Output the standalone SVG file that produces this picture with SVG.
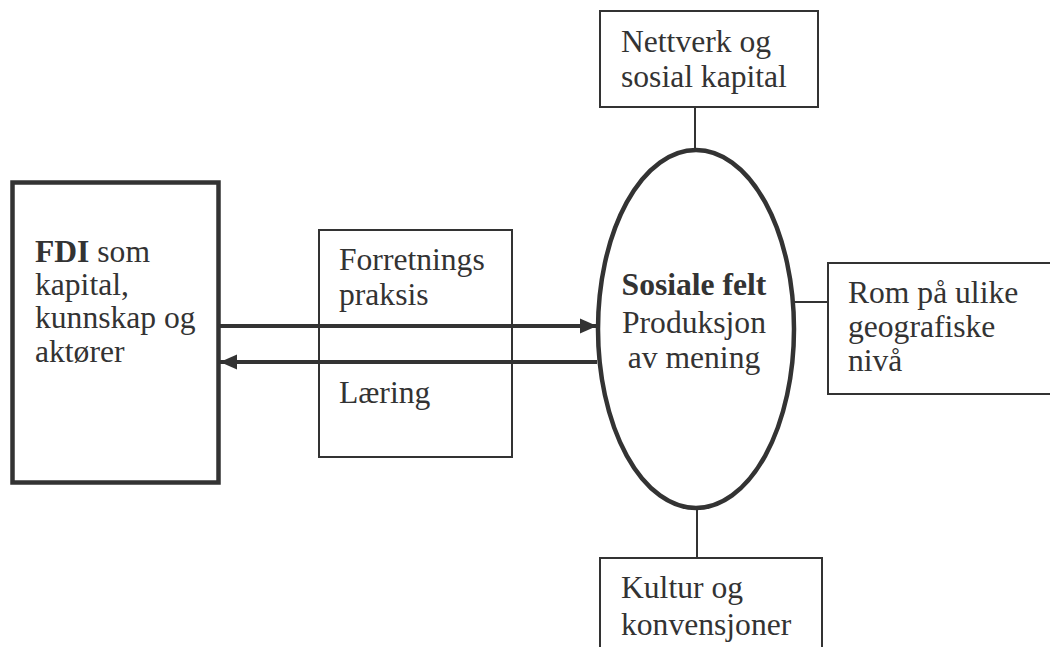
<svg xmlns="http://www.w3.org/2000/svg" width="1050" height="647" viewBox="0 0 1050 647">
  <defs>
    <style>
      .box { fill: #ffffff; stroke: #333333; stroke-width: 2; }
      .thick { fill: #ffffff; stroke: #333333; stroke-width: 4.5; }
      .txt { font-family: "Liberation Serif", "Times New Roman", serif; font-size: 31.6px; fill: #333333; }
      .b { font-weight: bold; }
      .conn { stroke: #333333; stroke-width: 2; fill: none; }
      .arrow { stroke: #333333; stroke-width: 4; fill: none; }
    </style>
    <marker id="ah" markerUnits="userSpaceOnUse" markerWidth="18" markerHeight="16" refX="17" refY="8" orient="auto">
      <polygon points="0,0.5 17,8 0,15.5" fill="#333333"/>
    </marker>
  </defs>

  <g id="node-fdi">
    <rect class="thick" x="12.5" y="182.5" width="206" height="300"/>
    <text class="txt" x="35" y="262"><tspan class="b">FDI</tspan> som</text>
    <text class="txt" x="35" y="295">kapital,</text>
    <text class="txt" x="35" y="328">kunnskap og</text>
    <text class="txt" x="35" y="362">aktører</text>
  </g>

  <g id="node-forretning">
    <rect class="box" x="319" y="230" width="193" height="227"/>
    <text class="txt" x="339" y="270">Forretnings</text>
    <text class="txt" x="339" y="305">praksis</text>
    <text class="txt" x="339" y="403">Læring</text>
  </g>

  <g id="node-nettverk">
    <rect class="box" x="600" y="11" width="218" height="96"/>
    <text class="txt" x="621" y="52">Nettverk og</text>
    <text class="txt" x="621" y="87">sosial kapital</text>
  </g>

  <g id="node-rom">
    <rect class="box" x="828" y="263" width="240" height="131"/>
    <text class="txt" x="848" y="303">Rom på ulike</text>
    <text class="txt" x="848" y="337">geografiske</text>
    <text class="txt" x="848" y="371">nivå</text>
  </g>

  <g id="node-kultur">
    <rect class="box" x="600" y="558" width="222" height="110"/>
    <text class="txt" x="621" y="598">Kultur og</text>
    <text class="txt" x="621" y="635">konvensjoner</text>
  </g>

  <g id="connectors">
    <line class="conn" x1="695" y1="107" x2="695" y2="152"/>
    <line class="conn" x1="697" y1="506" x2="697" y2="558"/>
    <line class="conn" x1="794" y1="302" x2="828" y2="302"/>
    <line class="arrow" x1="220" y1="326" x2="597" y2="326" marker-end="url(#ah)"/>
    <line class="arrow" x1="597" y1="362" x2="220" y2="362" marker-end="url(#ah)"/>
  </g>

  <g id="node-sosiale">
    <ellipse class="thick" cx="696" cy="329" rx="98" ry="179" style="fill:none"/>
    <text class="txt b" x="694" y="295" text-anchor="middle">Sosiale felt</text>
    <text class="txt" x="694" y="333" text-anchor="middle">Produksjon</text>
    <text class="txt" x="694" y="368" text-anchor="middle">av mening</text>
  </g>
</svg>
